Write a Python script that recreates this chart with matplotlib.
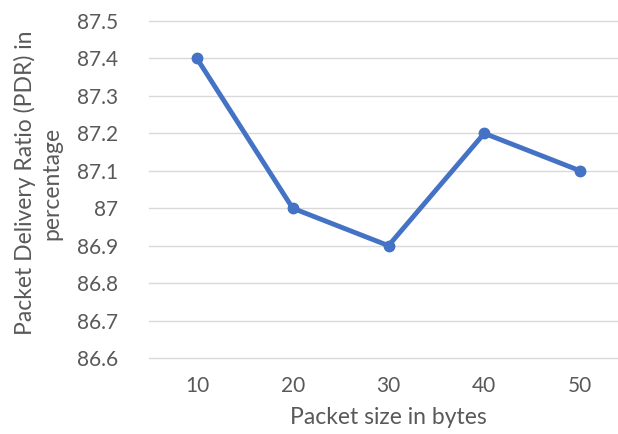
import matplotlib
matplotlib.use("Agg")
import matplotlib.pyplot as plt

packet_sizes = ["10", "20", "30", "40", "50"]
pdr_values = [87.4, 87.0, 86.9, 87.2, 87.1]
y_ticks = [86.6, 86.7, 86.8, 86.9, 87.0, 87.1, 87.2, 87.3, 87.4, 87.5]
y_tick_labels = ["86.6", "86.7", "86.8", "86.9", "87", "87.1", "87.2", "87.3", "87.4", "87.5"]

plt.rcParams["font.family"] = ["Lato", "DejaVu Sans"]
text_color = "#595959"

W, H = 618, 434
fig = plt.figure(figsize=(W / 100, H / 100), dpi=100)
left, right, top, bottom = 149, 628, 21, 358
ax = fig.add_axes([left / W, (H - bottom) / H, (right - left) / W, (bottom - top) / H])

x = list(range(len(packet_sizes)))
ax.plot(x, pdr_values, color="#4472C4", linewidth=3.5, marker="o",
        markersize=7.5, solid_joinstyle="round", zorder=3, clip_on=False)

ax.set_xlim(-0.5, len(packet_sizes) - 0.5)
ax.set_ylim(86.6, 87.5)
ax.set_yticks(y_ticks)
ax.set_yticklabels(y_tick_labels)
ax.set_xticks(x)
ax.set_xticklabels(packet_sizes)

# horizontal gridlines, drawn without clipping so the edge lines stay whole
for yv in y_ticks:
    ax.axhline(yv, color="#D9D9D9", linewidth=1, zorder=1, clip_on=False)
for s in ax.spines.values():
    s.set_visible(False)
ax.tick_params(axis="both", length=0, labelsize=15, colors=text_color)
ax.tick_params(axis="y", pad=22)
ax.tick_params(axis="x", pad=13)

ax.set_xlabel("Packet size in bytes", fontsize=16.5, color=text_color, labelpad=8)
fig.text(38 / W, 1 - 183 / H, "Packet Delivery Ratio (PDR) in\npercentage", rotation=90,
         ha="center", va="center", multialignment="center",
         fontsize=16.5, color=text_color, linespacing=1.35)

fig.savefig("out.png", dpi=100)
